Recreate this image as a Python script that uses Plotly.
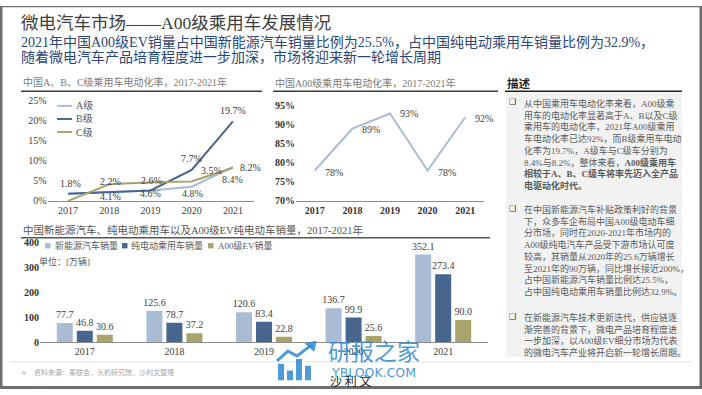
import plotly.graph_objects as go

W, H = 702, 395

# ---------------- data ----------------
years = ["2017", "2018", "2019", "2020", "2021"]

abc_names = ["A级", "B级", "C级"]
rate_a = [1.8, 2.2, 2.6, 3.5, 8.4]
rate_b = [1.8, 2.2, 2.6, 7.7, 19.7]
rate_c = [0.0, 4.1, 4.6, 4.8, 8.2]
left_ticks = [0, 5, 10, 15, 20, 25]

rate_a00 = [78, 89, 93, 78, 92]
right_ticks = [70, 75, 80, 85, 90, 95]

bar_names = ["新能源汽车销量", "纯电动乘用车销量", "A00级EV销量"]
sales_nev = [77.7, 125.6, 120.6, 136.7, 352.1]
sales_bev = [46.8, 78.7, 83.4, 99.9, 273.4]
sales_a00 = [30.6, 37.2, 22.8, 25.6, 90.0]
bar_ticks = [0, 100, 200, 300, 400]

title = "微电汽车市场——A00级乘用车发展情况"
subtitle1 = "2021年中国A00级EV销量占中国新能源汽车销量比例为25.5%，占中国纯电动乘用车销量比例为32.9%，"
subtitle2 = "随着微电汽车产品培育程度进一步加深，市场将迎来新一轮增长周期"
chart1_title = "中国A、B、C级乘用车电动化率，2017-2021年"
chart2_title = "中国A00级乘用车电动化率，2017-2021年"
chart3_title = "中国新能源汽车、纯电动乘用车以及A00级EV纯电动车销量，2017-2021年"
unit_text = "单位：[万辆]"
desc_title = "描述"
para1 = ["从中国乘用车电动化率来看，A00级乘",
         "用车的电动化率显著高于A、B以及C级",
         "乘用车的电动化率，2021年A00级乘用",
         "车电动化率已达92%，而B级乘用车电动",
         "化率为19.7%，A级车与C级车分别为",
         "8.4%与8.2%，整体来看，<b>A00级乘用车</b>",
         "<b>相较于A、B、C级车将率先迈入全产品</b>",
         "<b>电驱动化时代。</b>"]
para2 = ["在中国新能源汽车补贴政策利好的背景",
         "下，众多车企布局中国A00级电动车细",
         "分市场，同时在2020-2021年市场内的",
         "A00级纯电汽车产品受下游市场认可度",
         "较高，其销量从2020年的25.6万辆增长",
         "至2021年的90万辆，同比增长接近200%，",
         "占中国新能源汽车销量比例达25.5%，",
         "占中国纯电动乘用车销量比例达32.9%。"]
para3 = ["在新能源汽车技术更新迭代，供应链逐",
         "渐完善的背景下，微电产品培育程度进",
         "一步加深，以A00级EV细分市场为代表",
         "的微电汽车产业将开启新一轮增长周期。"]
source_text = "资料来源：乘联会，头豹研究院，沙利文整理"
page_no = "9"

# ---------------- style ----------------
C_LIGHT = "#a9bcd4"
C_DARK = "#46668f"
C_OLIVE = "#a7a36b"
SERIF = "Liberation Serif, Noto Sans CJK SC, serif"
TXT = "#404040"

xnum = [int(y) for y in years]


def X(px):
    return px / W


def Y(py):
    return 1 - py / H


fig = go.Figure()

# left line chart
for name, vals, col in zip(abc_names, [rate_a, rate_b, rate_c], [C_LIGHT, C_DARK, C_OLIVE]):
    fig.add_trace(go.Scatter(x=xnum, y=vals, mode="lines", name=name,
                             line=dict(color=col, width=2), xaxis="x", yaxis="y",
                             showlegend=False, hoverinfo="skip", cliponaxis=False))

# right line chart
fig.add_trace(go.Scatter(x=xnum, y=rate_a00, mode="lines", name="A00级",
                         line=dict(color=C_LIGHT, width=2), xaxis="x2", yaxis="y2",
                         showlegend=False, hoverinfo="skip", cliponaxis=False))

# bar chart
for name, vals, col in zip(bar_names, [sales_nev, sales_bev, sales_a00], [C_LIGHT, C_DARK, C_OLIVE]):
    fig.add_trace(go.Bar(x=years, y=vals, name=name, marker=dict(color=col, line=dict(width=0)),
                         text=[f"{v:.1f}" for v in vals], textposition="outside",
                         constraintext="none",
                         textfont=dict(family=SERIF, size=10, color=TXT),
                         cliponaxis=False, xaxis="x3", yaxis="y3", showlegend=False,
                         hoverinfo="skip"))

annotations = []
shapes = []

# left chart data labels (offsets in px)
left_label_pos = {
    ("B", 0): (2, 10), ("B", 1): (1, 11), ("B", 2): (1, 10), ("B", 3): (0, 11), ("B", 4): (0, 11),
    ("C", 1): (1, -12), ("C", 2): (0, -11), ("C", 3): (1, -12), ("C", 4): (18, 0),
    ("A", 3): (20, 16), ("A", 4): (0, -12),
}
series_map = {"A": rate_a, "B": rate_b, "C": rate_c}
for (s, i), (dx, dy) in left_label_pos.items():
    v = series_map[s][i]
    annotations.append(dict(x=xnum[i], y=v, xref="x", yref="y", text=f"{v:.1f}%",
                            showarrow=False, xshift=dx, yshift=dy,
                            font=dict(family=SERIF, size=10, color=TXT)))

# right chart data labels
right_dy = [-2, -1, 0, -2, -1]
for i, v in enumerate(rate_a00):
    annotations.append(dict(x=xnum[i], y=v, xref="x2", yref="y2", text=f"{v}%",
                            showarrow=False, xanchor="left", xshift=8, yshift=right_dy[i],
                            font=dict(family=SERIF, size=10, color=TXT)))

# left legend (manual)
for k, (name, col) in enumerate(zip(abc_names, [C_LIGHT, C_DARK, C_OLIVE])):
    yy = 103 + k * 13.5
    shapes.append(dict(type="line", xref="paper", yref="paper", x0=X(57), x1=X(72),
                       y0=Y(yy), y1=Y(yy), line=dict(color=col, width=2)))
    annotations.append(dict(x=X(74), y=Y(yy), xref="paper", yref="paper", text=name,
                            showarrow=False, xanchor="left", yanchor="middle",
                            font=dict(family=SERIF, size=10, color="#595959")))

# bar legend (manual)
leg_x = [(45, 53), (122, 129), (208, 216)]
for (sx, tx), name, col in zip(leg_x, bar_names, [C_LIGHT, C_DARK, C_OLIVE]):
    shapes.append(dict(type="rect", xref="paper", yref="paper", x0=X(sx), x1=X(sx + 5.5),
                       y0=Y(250), y1=Y(244.5), fillcolor=col, line=dict(width=0)))
    annotations.append(dict(x=X(tx), y=Y(247.5), xref="paper", yref="paper", text=name,
                            showarrow=False, xanchor="left", yanchor="middle",
                            font=dict(family=SERIF, size=9, color="#595959")))
annotations.append(dict(x=X(37), y=Y(263), xref="paper", yref="paper", text=unit_text,
                        showarrow=False, xanchor="left", yanchor="middle",
                        font=dict(family=SERIF, size=9, color="#595959")))

# titles
annotations.append(dict(x=X(19), y=Y(18), xref="paper", yref="paper", text=title,
                        showarrow=False, xanchor="left", yanchor="middle",
                        font=dict(family=SERIF, size=17.5, color="#404040")))
annotations.append(dict(x=X(19), y=Y(37), xref="paper", yref="paper", text=subtitle1,
                        showarrow=False, xanchor="left", yanchor="middle",
                        font=dict(family=SERIF, size=14, color="#2a4775")))
annotations.append(dict(x=X(19), y=Y(53), xref="paper", yref="paper", text=subtitle2,
                        showarrow=False, xanchor="left", yanchor="middle",
                        font=dict(family=SERIF, size=14, color="#2a4775")))

annotations.append(dict(x=X(21), y=Y(78), xref="paper", yref="paper", text=chart1_title,
                        showarrow=False, xanchor="left", yanchor="middle",
                        font=dict(family=SERIF, size=10, color="#7a7a7a")))
annotations.append(dict(x=X(273), y=Y(79), xref="paper", yref="paper", text=chart2_title,
                        showarrow=False, xanchor="left", yanchor="middle",
                        font=dict(family=SERIF, size=10, color="#7a7a7a")))
annotations.append(dict(x=X(21), y=Y(231), xref="paper", yref="paper", text=chart3_title,
                        showarrow=False, xanchor="left", yanchor="middle",
                        font=dict(family=SERIF, size=10.5, color="#555555")))

shapes.append(dict(type="line", xref="paper", yref="paper", x0=X(21), x1=X(262), y0=Y(88), y1=Y(88),
                   line=dict(color="#3a3a3a", width=1.5)))
shapes.append(dict(type="line", xref="paper", yref="paper", x0=X(273), x1=X(498), y0=Y(88), y1=Y(88),
                   line=dict(color="#3a3a3a", width=1.5)))
shapes.append(dict(type="line", xref="paper", yref="paper", x0=X(21), x1=X(490), y0=Y(239), y1=Y(239),
                   line=dict(color="#555555", width=1.5)))

# description panel
shapes.append(dict(type="rect", xref="paper", yref="paper", x0=X(506), x1=X(682), y0=Y(362), y1=Y(89),
                   fillcolor="#f2f2f2", line=dict(width=0), layer="below"))
shapes.append(dict(type="line", xref="paper", yref="paper", x0=X(505), x1=X(682), y0=Y(88), y1=Y(88),
                   line=dict(color="#222222", width=1.5)))
annotations.append(dict(x=X(505), y=Y(80), xref="paper", yref="paper", text=f"<b>{desc_title}</b>",
                        showarrow=False, xanchor="left", yanchor="middle",
                        font=dict(family=SERIF, size=11.5, color="#262626")))
for top, para in [(92.5, para1), (202.5, para2), (314, para3)]:
    annotations.append(dict(x=X(512), y=Y(top + 6), xref="paper", yref="paper", text="❑",
                            showarrow=False, xanchor="center", yanchor="middle",
                            font=dict(family="DejaVu Sans", size=8, color="#262626")))
    annotations.append(dict(x=X(522), y=Y(top), xref="paper", yref="paper",
                            text="<br>".join(para), align="left",
                            showarrow=False, xanchor="left", yanchor="top",
                            font=dict(family=SERIF, size=9, color="#5a5a5a")))

# footer
shapes.append(dict(type="line", xref="paper", yref="paper", x0=X(10), x1=X(692), y0=Y(367), y1=Y(367),
                   line=dict(color="#e0e0e0", width=1)))
annotations.append(dict(x=X(20), y=Y(379), xref="paper", yref="paper", text=page_no,
                        showarrow=False, xanchor="left", yanchor="middle",
                        font=dict(family=SERIF, size=7, color="#9a9a9a")))
annotations.append(dict(x=X(32), y=Y(378), xref="paper", yref="paper", text=source_text,
                        showarrow=False, xanchor="left", yanchor="middle",
                        font=dict(family=SERIF, size=7, color="#a5a5a5")))

# watermark
WM = "#2f8ad0"
for (x0, x1, y0) in [(278, 284, 369), (287, 293, 376), (296, 302, 364), (305, 311, 371)]:
    shapes.append(dict(type="rect", xref="paper", yref="paper", x0=X(x0), x1=X(x1), y0=Y(386), y1=Y(y0),
                       fillcolor=WM, line=dict(width=0), opacity=0.85))
shapes.append(dict(type="path", xref="paper", yref="paper",
                   path=f"M {X(277)} {Y(366)} L {X(288)} {Y(356)} L {X(297)} {Y(361)} L {X(311)} {Y(350)}",
                   line=dict(color=WM, width=3), opacity=0.85))
shapes.append(dict(type="path", xref="paper", yref="paper",
                   path=f"M {X(305)} {Y(348)} L {X(316)} {Y(346)} L {X(314)} {Y(356)} Z",
                   fillcolor=WM, line=dict(color=WM, width=1), opacity=0.85))
annotations.append(dict(x=X(374), y=Y(355), xref="paper", yref="paper", text="研报之家",
                        showarrow=False, xanchor="center", yanchor="middle", opacity=0.85,
                        font=dict(family="Noto Sans CJK SC", size=23, color=WM)))
annotations.append(dict(x=X(350), y=Y(386), xref="paper", yref="paper", text="沙 利 文",
                        showarrow=False, xanchor="center", yanchor="middle",
                        font=dict(family="Noto Sans CJK SC", size=12, color="#222222")))
annotations.append(dict(x=X(374), y=Y(378), xref="paper", yref="paper", text="YBLOOK.COM",
                        showarrow=False, xanchor="center", yanchor="middle", opacity=0.85,
                        font=dict(family="DejaVu Sans", size=12.5, color=WM)))

# frame
FR = "#6e6e6e"
for (x0, x1, y0, y1) in [(0, 2.5, 0, 395), (699.5, 702, 0, 395), (0, 702, 0, 1.2), (0, 702, 392, 395)]:
    shapes.append(dict(type="rect", xref="paper", yref="paper", x0=X(x0), x1=X(x1), y0=Y(y1), y1=Y(y0),
                       fillcolor=FR, line=dict(width=0)))

tick_font = dict(family=SERIF, size=10, color=TXT)
tick_font_b = dict(family=SERIF, size=10, color="#333333", weight="bold")

fig.update_layout(
    width=W, height=H, autosize=False,
    margin=dict(l=0, r=0, t=0, b=0),
    paper_bgcolor="white", plot_bgcolor="rgba(0,0,0,0)",
    barmode="group", bargap=0.33, bargroupgap=0.2,
    showlegend=False,
    xaxis=dict(domain=[X(47.5), X(253.5)], anchor="y", type="linear", range=[2016.5, 2021.5],
               tickvals=xnum, ticktext=years, showgrid=False,
               showline=True, linecolor="#8c8c8c", linewidth=1, ticks="", tickfont=tick_font,
               zeroline=False, fixedrange=True),
    yaxis=dict(domain=[Y(201), Y(97)], anchor="x", range=[0, 25], tickvals=left_ticks,
               ticktext=[f"{v}%" for v in left_ticks], showgrid=False, zeroline=False,
               showline=False, ticks="", tickfont=tick_font, fixedrange=True),
    xaxis2=dict(domain=[X(296), X(484)], anchor="y2", type="linear", range=[2016.5, 2021.5],
                tickvals=xnum, ticktext=years, showgrid=False,
                showline=True, linecolor="#8c8c8c", linewidth=1, ticks="", tickfont=tick_font_b,
                zeroline=False, fixedrange=True),
    yaxis2=dict(domain=[Y(201), Y(103)], anchor="x2", range=[70, 95], tickvals=right_ticks,
                ticktext=[f"{v}%" for v in right_ticks], showgrid=False, zeroline=False,
                showline=False, ticks="", tickfont=tick_font_b, fixedrange=True),
    xaxis3=dict(domain=[X(40), X(488)], anchor="y3", type="category", showgrid=False,
                showline=True, linecolor="#8c8c8c", linewidth=1, ticks="", tickfont=tick_font,
                zeroline=False, fixedrange=True),
    yaxis3=dict(domain=[Y(347), Y(244)], anchor="x3", range=[0, 400], tickvals=bar_ticks,
                showgrid=False, zeroline=False, showline=False, ticks="",
                tickfont=tick_font_b, fixedrange=True),
    annotations=annotations,
    shapes=shapes,
)

fig.write_html("out.html", config={"displayModeBar": False, "staticPlot": True},
               post_script="document.body.style.margin='0px';document.body.style.overflow='hidden';")
